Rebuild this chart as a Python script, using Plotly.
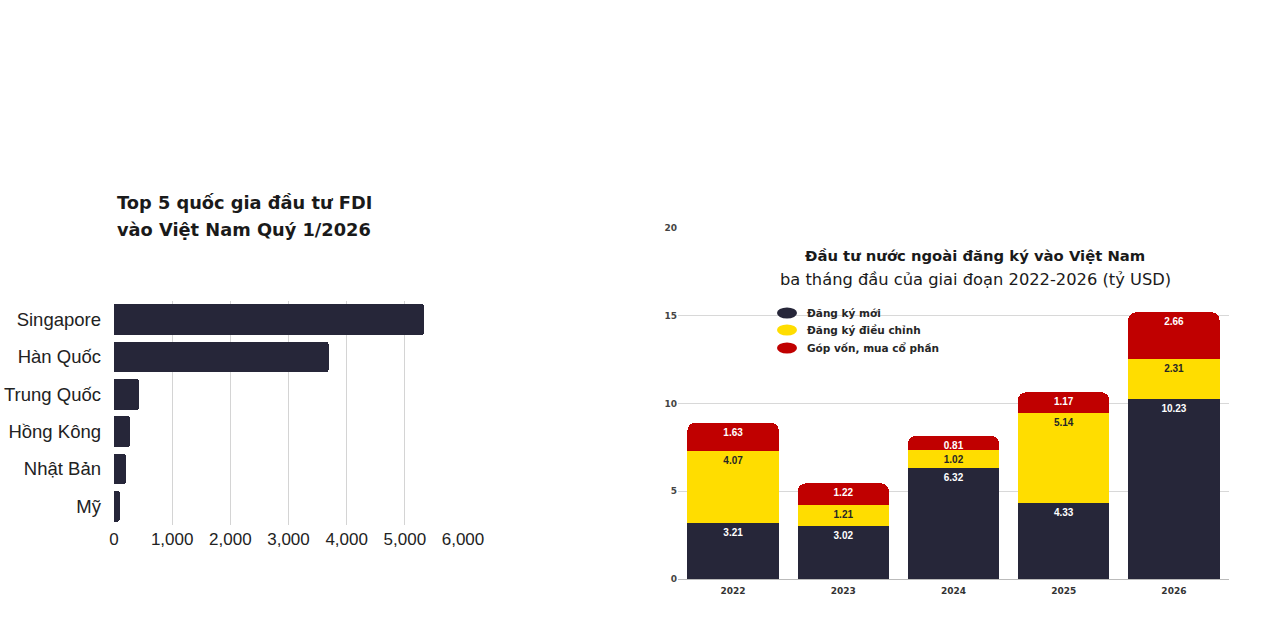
import plotly.graph_objects as go

# ---- Left chart data ----
countries = ["Singapore", "Hàn Quốc", "Trung Quốc", "Hồng Kông", "Nhật Bản", "Mỹ"]
fdi_values = [5330, 3690, 430, 275, 205, 100]
left_ticks = [0, 1000, 2000, 3000, 4000, 5000, 6000]

# ---- Right chart data ----
years = ["2022", "2023", "2024", "2025", "2026"]
dang_ky_moi = [3.21, 3.02, 6.32, 4.33, 10.23]
dang_ky_dieu_chinh = [4.07, 1.21, 1.02, 5.14, 2.31]
gop_von = [1.63, 1.22, 0.81, 1.17, 2.66]
right_ticks = [0, 5, 10, 15, 20]

NAVY = "#262639"
YELLOW = "#FFDD00"
RED = "#C00000"

W, H = 1268, 618


def px(x):
    return x / W


def py(y):
    return 1 - y / H


fig = go.Figure()

fig.add_trace(go.Bar(
    x=fdi_values, y=countries, orientation="h",
    marker=dict(color=NAVY, cornerradius=3, line=dict(width=0)),
    xaxis="x", yaxis="y", showlegend=False, hoverinfo="x+y",
))

series = [
    ("Đăng ký mới", dang_ky_moi, NAVY, "white"),
    ("Đăng ký điều chỉnh", dang_ky_dieu_chinh, YELLOW, "#262626"),
    ("Góp vốn, mua cổ phần", gop_von, RED, "white"),
]
cum = [0.0] * len(years)
for name, vals, col, tcol in series:
    fig.add_trace(go.Bar(
        x=years, y=vals, name=name,
        marker=dict(color=col, cornerradius=8, line=dict(width=0)),
        xaxis="x2", yaxis="y2", showlegend=False,
    ))
    cum = [c + v for c, v in zip(cum, vals)]
    # value labels just under the top of each segment
    fig.add_trace(go.Scatter(
        x=years, y=cum, mode="markers+text",
        marker=dict(size=7, color="rgba(0,0,0,0)"),
        text=[f"<b>{v:.2f}</b>" for v in vals],
        textposition="bottom center",
        textfont=dict(color=tcol, size=10, family="Liberation Sans"),
        xaxis="x2", yaxis="y2", showlegend=False, hoverinfo="skip",
        cliponaxis=False,
    ))

fig.update_layout(
    width=W, height=H,
    margin=dict(l=0, r=0, t=0, b=0, pad=0, autoexpand=False),
    paper_bgcolor="white", plot_bgcolor="white",
    barmode="stack", bargap=0.17,
    xaxis=dict(
        domain=[px(114), px(463)], range=[0, 6000],
        tickvals=left_ticks, tickformat=",",
        showgrid=True, gridcolor="#d4d4d4", gridwidth=1,
        zeroline=False, showline=False,
        tickfont=dict(size=17, color="#222222", family="Liberation Sans"),
        ticks="", anchor="y", ticklabelstandoff=2, automargin=False,
    ),
    yaxis=dict(
        domain=[py(525), py(301)],
        categoryorder="array", categoryarray=countries, autorange="reversed",
        showgrid=False, zeroline=False, showline=False,
        tickfont=dict(size=18.5, color="#222222", family="Liberation Sans"),
        ticks="", ticklabelstandoff=12, anchor="x", automargin=False,
    ),
    xaxis2=dict(
        domain=[px(678), px(1229)],
        showgrid=False, zeroline=False, showline=False,
        tickfont=dict(size=9, color="#333333", family="DejaVu Sans", weight="bold"),
        ticks="", anchor="y2", automargin=False, ticklabelstandoff=5,
    ),
    yaxis2=dict(
        domain=[py(579), py(228)], range=[0, 20],
        tickvals=right_ticks,
        showgrid=True, gridcolor="#d8d8d8", gridwidth=1,
        zeroline=True, zerolinecolor="#bbbbbb", zerolinewidth=1,
        showline=False,
        tickfont=dict(size=9, color="#444444", family="DejaVu Sans", weight="bold"),
        ticks="", anchor="x2", automargin=False,
    ),
)

# Left title
fig.add_annotation(
    xref="paper", yref="paper", x=px(115), y=py(202),
    xanchor="left", yanchor="middle", align="left", showarrow=False,
    text="<b>Top 5 quốc gia đầu tư FDI</b>",
    font=dict(size=17.8, color="#1a1a1a", family="DejaVu Sans"),
)
fig.add_annotation(
    xref="paper", yref="paper", x=px(115), y=py(229),
    xanchor="left", yanchor="middle", align="left", showarrow=False,
    text="<b>vào Việt Nam Quý 1/2026</b>",
    font=dict(size=17.8, color="#1a1a1a", family="DejaVu Sans"),
)

# Right title
fig.add_annotation(
    xref="paper", yref="paper", x=px(975), y=py(256),
    xanchor="center", yanchor="middle", showarrow=False,
    text="<b>Đầu tư nước ngoài đăng ký vào Việt Nam</b>",
    font=dict(size=14.8, color="#1a1a1a", family="DejaVu Sans"),
)
fig.add_annotation(
    xref="paper", yref="paper", x=px(975), y=py(279),
    xanchor="center", yanchor="middle", showarrow=False,
    text="ba tháng đầu của giai đoạn 2022-2026 (tỷ USD)",
    font=dict(size=16.3, color="#1a1a1a", family="DejaVu Sans"),
)

# Custom legend
legend_rows = [313, 330, 348]
for (name, vals, col, tcol), yy in zip(series, legend_rows):
    fig.add_shape(
        type="circle", xref="paper", yref="paper",
        x0=px(777), x1=px(797), y0=py(yy + 5.5), y1=py(yy - 5.5),
        fillcolor=col, line=dict(width=0),
    )
    fig.add_annotation(
        xref="paper", yref="paper", x=px(805), y=py(yy),
        xanchor="left", yanchor="middle", showarrow=False,
        text=f"<b>{name}</b>",
        font=dict(size=10.5, color="#262626", family="DejaVu Sans"),
    )

fig.write_html("out.html")
